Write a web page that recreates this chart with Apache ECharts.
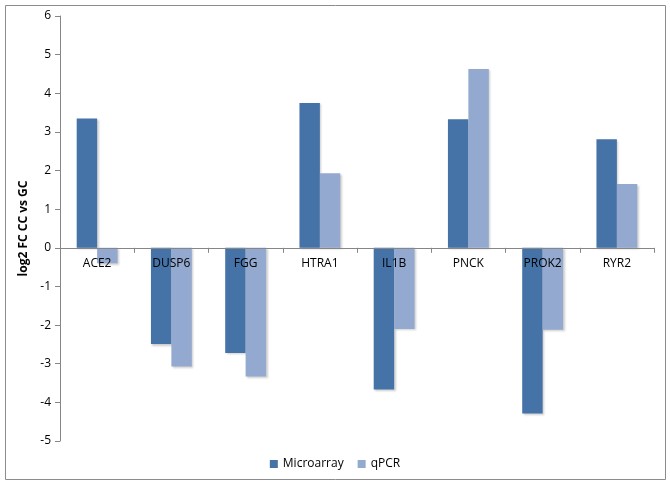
<!DOCTYPE html>
<html><head><meta charset="utf-8">
<script src="https://cdn.jsdelivr.net/npm/echarts@6/dist/echarts.min.js"></script>
<style>html,body{margin:0;padding:0;background:#fff}#c{width:670px;height:487px}</style>
</head><body><div id="c"></div>
<script>
const categories = ['ACE2','DUSP6','FGG','HTRA1','IL1B','PNCK','PROK2','RYR2'];
const microarray = [3.35,-2.49,-2.72,3.75,-3.67,3.33,-4.29,2.81];
const qpcr = [-0.40,-3.07,-3.33,1.93,-2.10,4.63,-2.12,1.65];
const seriesNames = ['Microarray','qPCR'];
const yTitle = 'log2 FC CC vs GC';

const chart = echarts.init(document.getElementById('c'));
const font = 'Open Sans, Liberation Sans, sans-serif';
const shadow = {shadowColor:'rgba(0,0,0,0.2)', shadowBlur:2, shadowOffsetX:1.5, shadowOffsetY:1.5};
const gridTop = 16, gridBottom = 46, H = 487;
const yMin = -5, yMax = 6;
// place category axis at the zero line
const plotH = H - gridTop - gridBottom;
const zeroOffset = -plotH * (0 - yMin) / (yMax - yMin);
chart.setOption({
  animation:false,
  backgroundColor:'#fff',
  graphic:[{type:'rect', shape:{x:5.5,y:5.5,width:660,height:474}, style:{fill:'none', stroke:'#8c8c8c', lineWidth:1}, silent:true, z:-1}],
  grid:{left:60, right:16, top:gridTop, bottom:gridBottom},
  legend:{bottom:12, left:'center', itemWidth:8, itemHeight:8, itemGap:14, icon:'rect',
    textStyle:{fontFamily:font, fontSize:12, color:'#000'}, data:seriesNames},
  xAxis:{type:'category', data:categories, z:5, position:'bottom', offset:zeroOffset,
    axisLine:{onZero:false, lineStyle:{color:'#868686'}},
    axisTick:{show:true, length:5, lineStyle:{color:'#868686'}},
    axisLabel:{fontFamily:font, fontSize:12, color:'#000', margin:10}},
  yAxis:{type:'value', min:yMin, max:yMax, interval:1,
    name:yTitle, nameLocation:'middle', nameGap:30, nameRotate:90,
    nameTextStyle:{fontFamily:font, fontSize:12, fontWeight:'bold', color:'#000'},
    axisLine:{show:true, lineStyle:{color:'#868686'}},
    axisTick:{show:true, length:5, lineStyle:{color:'#868686'}},
    splitLine:{show:false},
    axisLabel:{fontFamily:font, fontSize:12, color:'#000', margin:9}},
  series:[
    {name:seriesNames[0], type:'bar', data:microarray, barGap:'0%', barCategoryGap:'45%',
      itemStyle:Object.assign({color:'#4572A7'}, shadow)},
    {name:seriesNames[1], type:'bar', data:qpcr,
      itemStyle:Object.assign({color:'#93A9CF'}, shadow)}
  ]
});
</script></body></html>
